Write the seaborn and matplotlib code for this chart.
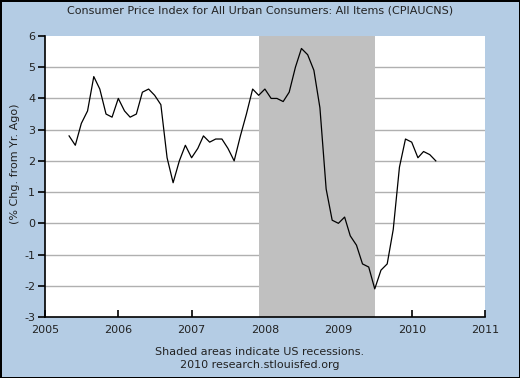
import pandas as pd
import matplotlib.pyplot as plt
import matplotlib.dates as mdates
import seaborn as sb

# CPI-U, % change from year ago, monthly May 2005 - May 2010
start_month = "2005-05-01"
cpi_change = [2.8, 2.5, 3.2, 3.6, 4.7, 4.3, 3.5, 3.4,
              4.0, 3.6, 3.4, 3.5, 4.2, 4.3, 4.1, 3.8, 2.1, 1.3, 2.0, 2.5,
              2.1, 2.4, 2.8, 2.6, 2.7, 2.7, 2.4, 2.0, 2.8, 3.5, 4.3, 4.1,
              4.3, 4.0, 4.0, 3.9, 4.2, 5.0, 5.6, 5.4, 4.9, 3.7, 1.1, 0.1,
              0.0, 0.2, -0.4, -0.7, -1.3, -1.4, -2.1, -1.5, -1.3, -0.2, 1.8, 2.7,
              2.6, 2.1, 2.3, 2.2, 2.0]
recession = ("2007-12-01", "2009-07-01")
year_ticks = [2005, 2006, 2007, 2008, 2009, 2010, 2011]
y_ticks = [-3, -2, -1, 0, 1, 2, 3, 4, 5, 6]

df = pd.DataFrame({
    "date": pd.date_range(start_month, periods=len(cpi_change), freq="MS"),
    "value": cpi_change,
})

bg = "#b4cce4"
txt = "#222222"
plt.rcParams["font.family"] = ["DejaVu Sans"]
fig = plt.figure(figsize=(5.2, 3.78), dpi=100, facecolor=bg,
                 edgecolor="black", linewidth=1)
ax = fig.add_axes([0.0865, 0.1614, 0.8462, 0.7434])
ax.set_facecolor("white")

for y in y_ticks[1:-1]:
    ax.axhline(y, color="#b0b0b0", lw=1, zorder=1)
ax.axvspan(pd.Timestamp(recession[0]), pd.Timestamp(recession[1]),
           color="#c0c0c0", lw=0, zorder=2)

sb.lineplot(data=df, x="date", y="value", ax=ax, color="black", lw=0.9, zorder=3)

ax.set_xlim(pd.Timestamp("2005-01-01"), pd.Timestamp("2011-01-01"))
ax.set_ylim(-3, 6)
ax.set_yticks(y_ticks)
ax.set_yticklabels([str(v) for v in y_ticks])
ax.set_xticks([pd.Timestamp(f"{y}-01-01") for y in year_ticks])
ax.xaxis.set_major_formatter(mdates.DateFormatter("%Y"))

for s in ["top", "right"]:
    ax.spines[s].set_visible(False)
ax.spines["left"].set_linewidth(1.2)
ax.spines["bottom"].set_linewidth(1.2)
ax.tick_params(axis="y", direction="out", length=5, width=1.2, labelsize=8,
               labelcolor=txt, pad=2)
ax.tick_params(axis="x", direction="in", length=5, width=1.2, labelsize=8,
               labelcolor=txt, pad=6)
ax.set_xlabel("")
ax.set_ylabel("")
fig.text(15 / 520, 0.566, "(% Chg. from Yr. Ago)", rotation=90,
         ha="center", va="center", fontsize=8, color=txt)

fig.text(0.5, 0.972, "Consumer Price Index for All Urban Consumers: All Items (CPIAUCNS)",
         ha="center", va="center", fontsize=8, color=txt)
fig.text(0.5, 0.069, "Shaded areas indicate US recessions.",
         ha="center", va="center", fontsize=8, color=txt)
fig.text(0.5, 0.034, "2010 research.stlouisfed.org",
         ha="center", va="center", fontsize=8, color=txt)

fig.savefig("out.png", dpi=100, facecolor=bg, edgecolor="black")
